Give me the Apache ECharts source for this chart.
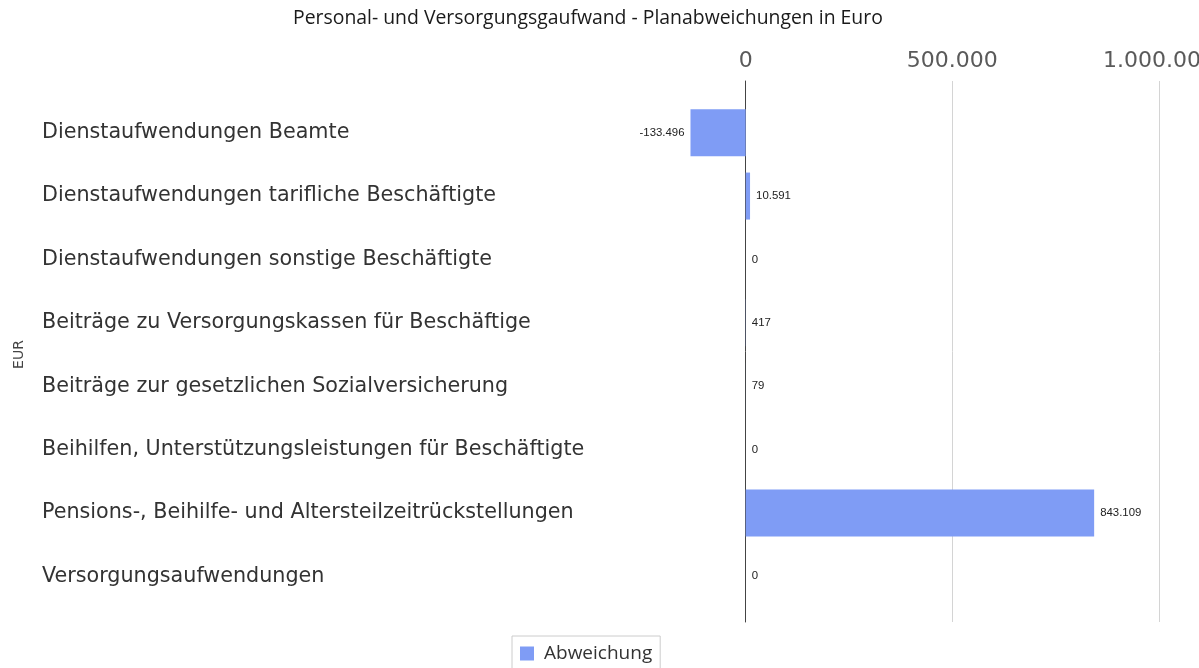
<!DOCTYPE html>
<html>
<head>
<meta charset="utf-8">
<title>Personal- und Versorgungsaufwand</title>
<script src="https://cdn.jsdelivr.net/npm/echarts@6/dist/echarts.min.js"></script>
<style>
  html, body { margin: 0; padding: 0; background: #fff; overflow: hidden; }
  #chart { width: 1199px; height: 668px; }
</style>
</head>
<body>
<div id="chart"></div>
<script>
// Kategorien (von oben nach unten)
const categories = [
  'Dienstaufwendungen Beamte',
  'Dienstaufwendungen tarifliche Beschäftigte',
  'Dienstaufwendungen sonstige Beschäftigte',
  'Beiträge zu Versorgungskassen für Beschäftige',
  'Beiträge zur gesetzlichen Sozialversicherung',
  'Beihilfen, Unterstützungsleistungen für Beschäftigte',
  'Pensions-, Beihilfe- und Altersteilzeitrückstellungen',
  'Versorgungsaufwendungen'
]
// Planabweichung in Euro
const abweichung = [-133496, 10591, 0, 417, 79, 0, 843109, 0]
// Achse
const axisMin = -500000
const axisMax = 1000000
const axisStep = 500000

// deutsche Tausenderpunkte
function fmt (v) {
  const s = String(Math.abs(Math.round(v))).replace(/\B(?=(\d{3})+(?!\d))/g, '.')
  return (v < 0 ? '-' : '') + s
}

const chart = echarts.init(document.getElementById('chart'))

const option = {
  backgroundColor: '#fff',
  animation: false,
  title: {
    text: 'Personal- und Versorgungsgaufwand - Planabweichungen in Euro',
    left: 288,
    top: 4,
    textStyle: { fontFamily: 'Open Sans', fontSize: 19.4, fontWeight: 500, color: '#1a1a1a' }
  },
  legend: {
    data: ['Abweichung'],
    left: 512,
    top: 636,
    icon: 'rect',
    itemWidth: 14,
    itemHeight: 14,
    padding: [8, 8, 8, 8],
    borderColor: '#ccc',
    borderWidth: 1,
    textStyle: { fontFamily: 'Open Sans', fontSize: 19, color: '#333', padding: [0, 0, 0, 5] }
  },
  grid: [
    // Balken
    { left: 539, right: 40, top: 101, bottom: 60, outerBoundsMode: 'none' },
    // Gitterlinien und obere Achse
    { left: 539, right: 40, top: 81, bottom: 46, outerBoundsMode: 'none' }
  ],
  xAxis: [
    {
      gridIndex: 0,
      type: 'value',
      min: axisMin,
      max: axisMax,
      interval: axisStep,
      show: false
    },
    {
      gridIndex: 1,
      type: 'value',
      position: 'top',
      min: axisMin,
      max: axisMax,
      interval: axisStep,
      axisLine: { show: false },
      axisTick: { show: false },
      axisLabel: {
        margin: 9,
        showMinLabel: false,
        hideOverlap: false,
        fontFamily: 'DejaVu Sans, Verdana, sans-serif',
        fontSize: 22,
        color: '#5a5a5a',
        formatter: v => (v < 0 ? '' : fmt(v))
      },
      splitLine: { show: true, showMinLine: false, lineStyle: { color: '#d4d4d4', width: 1 } }
    }
  ],
  yAxis: [
    {
      gridIndex: 0,
      type: 'category',
      inverse: true,
      data: categories,
      name: 'EUR',
      nameLocation: 'middle',
      nameRotate: 90,
      nameGap: 513,
      nameTextStyle: { fontFamily: 'DejaVu Sans, Verdana, sans-serif', fontSize: 14, color: '#444' },
      axisLine: { show: false },
      axisTick: { show: false },
      axisLabel: {
        align: 'left',
        margin: 497,
        fontFamily: 'DejaVu Sans, Verdana, sans-serif',
        fontSize: 20.7,
        color: '#333'
      }
    },
    {
      gridIndex: 1,
      type: 'value',
      min: 0,
      max: 1,
      axisLine: { show: true, onZero: true, lineStyle: { color: '#444', width: 1 } },
      axisTick: { show: false },
      axisLabel: { show: false },
      splitLine: { show: false }
    }
  ],
  series: [
    {
      name: 'Abweichung',
      type: 'bar',
      xAxisIndex: 0,
      yAxisIndex: 0,
      barWidth: 47,
      itemStyle: { color: '#7f9cf5' },
      label: {
        show: true,
        distance: 6,
        fontFamily: 'Liberation Sans',
        fontSize: 11.4,
        color: '#222',
        formatter: p => fmt(p.value)
      },
      data: abweichung.map(v => ({
        value: v,
        label: { position: v < 0 ? 'left' : 'right' }
      }))
    }
  ]
}

chart.setOption(option)
</script>
</body>
</html>
